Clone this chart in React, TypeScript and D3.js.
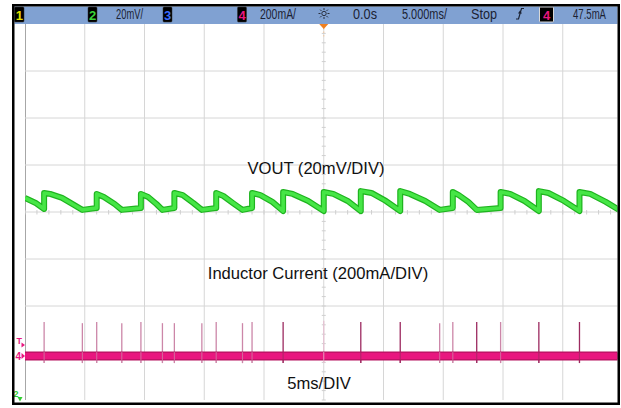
import React from 'react';
import * as d3 from 'd3';

const W = 621;
const H = 408;

// Scope settings
const timeDomainMs: [number, number] = [-25, 25]; // 5 ms/div, 10 divisions
const voutDomainMv: [number, number] = [-80, 80]; // 20 mV/div, 8 divisions (relative to offset)
const currentDomainMa: [number, number] = [-187, 1413]; // 200 mA/div, 8 divisions, ch4 offset
const triggerLevelMa = 47.5;

// VOUT ripple vertices [time ms, mV relative to screen centre]
const voutPoints: [number, number][] = [
  [-25.0, 6.0], [-24.1, 3.8], [-23.4, 1.3],
  [-23.4, 8.1], [-22.9, 7.7], [-21.9, 6.0], [-20.9, 3.0], [-20.2, 0.9], [-19.0, 1.7],
  [-19.0, 7.7], [-18.4, 6.4], [-17.5, 3.4], [-16.9, 0.9], [-15.3, 1.7],
  [-15.3, 7.7], [-14.7, 6.4], [-14.0, 3.4], [-13.5, 0.9], [-12.5, 1.7],
  [-12.5, 8.1], [-11.8, 7.2], [-10.9, 3.8], [-10.2, 0.9], [-9.0, 1.7],
  [-9.0, 8.1], [-8.4, 6.8], [-7.6, 3.8], [-6.8, 0.9], [-6.0, 1.7],
  [-6.0, 8.1], [-5.3, 7.2], [-4.3, 4.3], [-3.4, 0.4],
  [-3.4, 8.5], [-2.6, 7.7], [-1.3, 4.7], [0.0, 0.4],
  [0.0, 8.5], [0.8, 7.7], [2.0, 4.7], [3.1, 0.4],
  [3.1, 8.9], [4.0, 8.1], [5.2, 4.7], [6.4, 0.4],
  [6.4, 8.9], [7.2, 7.7], [8.5, 4.7], [9.7, 0.9], [10.8, 1.7],
  [10.8, 8.5], [11.3, 7.2], [12.1, 4.3], [12.8, 0.9], [14.8, 1.7],
  [14.8, 8.5], [15.6, 7.7], [16.8, 4.7], [18.0, 0.4],
  [18.0, 8.9], [18.8, 8.1], [20.1, 4.7], [21.4, 0.4],
  [21.4, 8.5], [22.3, 7.7], [23.6, 4.3], [25.0, 0.0],
];

// Inductor current baseline [time ms, mA]
const currentBaseline: [number, number][] = [[-25, 0], [25, 0]];

// Inductor current pulses
const spikeTimes = [-23.4, -20.2, -19.0, -16.9, -15.3, -13.5, -12.5, -10.2, -9.0, -6.8, -6.0, -3.4, 0.0, 3.1, 6.4, 9.7, 10.8, 12.8, 14.8, 18.0, 21.4];
const spikePeakMa = [145, 140, 145, 140, 145, 140, 140, 140, 145, 140, 145, 145, 150, 145, 145, 140, 145, 145, 145, 145, 145];
const spikeKind = ['weak', 'weak', 'weak', 'weak', 'weak', 'weak', 'weak', 'weak', 'weak', 'weak', 'weak', 'strong', 'faint', 'strong', 'strong', 'weak', 'weak', 'strong', 'weak', 'strong', 'strong'];
const spikeLowMa = -30;

const channelLabels = ['VOUT (20mV/DIV)', 'Inductor Current (200mA/DIV)', '5ms/DIV'];
const statusTexts = ['20mV/', '200mA/', '0.0s', '5.000ms/', 'Stop', '47.5mA'];

const PL = 25;
const PR = 25 + 10 * 59.75;
const PT = 24;
const PB = 400;

export default function App() {
  const x = d3.scaleLinear().domain(timeDomainMs).range([PL, PR]);
  const yV = d3.scaleLinear().domain(voutDomainMv).range([PB, PT]);
  const yI = d3.scaleLinear().domain(currentDomainMa).range([PB, PT]);
  const vLine = d3.line<[number, number]>().x(d => x(d[0])).y(d => yV(d[1]));
  const iLine = d3.line<[number, number]>().x(d => x(d[0])).y(d => yI(d[1]));

  const xGrid = d3.range(timeDomainMs[0], timeDomainMs[1] + 0.001, 5);
  const yGrid = d3.range(voutDomainMv[0] + 20, voutDomainMv[1] - 0.001, 20);
  const xMinor = d3.range(timeDomainMs[0], timeDomainMs[1] + 0.001, 1);
  const yMinor = d3.range(voutDomainMv[0], voutDomainMv[1] + 0.001, 4);
  const cx = x(0);
  const cy = yV(0);

  const spikeColor: Record<string, string> = { strong: '#9c2a60', weak: '#cc86a8', faint: '#e6c3d3' };

  const font = "'Liberation Sans', Arial, Helvetica, sans-serif";
  const barFont = "'Liberation Sans Narrow', 'Liberation Sans', Arial, sans-serif";
  const barY = 18.7;
  const barSize = 14;

  const chBox = (x0: number, w: number, digit: string, color: string, outline?: boolean) => (
    <g key={digit + x0}>
      <rect x={x0} y={7} width={w} height={15} fill="#000" stroke={outline ? '#d8d8d8' : '#333'} strokeWidth={outline ? 1 : 0.5} rx={1} />
      <text x={x0 + w / 2} y={19.5} fontFamily={font} fontWeight="bold" fontSize={13} fill={color} textAnchor="middle">{digit}</text>
    </g>
  );

  const sunRays = d3.range(8).map(i => (i * Math.PI) / 4);

  return (
    <svg width={W} height={H} style={{ position: 'absolute', left: 0, top: 0, background: '#fff' }}>
      <defs>
        <clipPath id="plotClip">
          <rect x={PL} y={PT} width={617.5 - PL} height={402 - PT} />
        </clipPath>
      </defs>
      <rect x={0} y={0} width={W} height={H} fill="#fff" />

      {/* grid */}
      <g clipPath="url(#plotClip)">
        {xGrid.map(t => (
          <line key={'gx' + t} x1={x(t)} x2={x(t)} y1={PT} y2={PB} stroke={t === timeDomainMs[0] ? '#8a8a8a' : '#d6d6d6'} strokeWidth={t === timeDomainMs[0] ? 1.5 : 1} />
        ))}
        {yGrid.map(v => (
          <line key={'gy' + v} x1={PL} x2={PR} y1={yV(v)} y2={yV(v)} stroke="#d6d6d6" strokeWidth={1} />
        ))}
        {xMinor.map(t => (
          <line key={'mx' + t} x1={x(t)} x2={x(t)} y1={cy - 2} y2={cy + 2.5} stroke="#cfcfcf" strokeWidth={1} />
        ))}
        {yMinor.map(v => (
          <line key={'my' + v} x1={cx - 2} x2={cx + 2} y1={yV(v)} y2={yV(v)} stroke="#cfcfcf" strokeWidth={1} />
        ))}
        {/* trigger position dotted line */}
        <line x1={cx} x2={cx} y1={28} y2={38} stroke="#f3c9a0" strokeWidth={1} strokeDasharray="1.5 2" />
      </g>

      {/* labels */}
      <text x={316} y={174} fontFamily={font} fontSize={16.6} fill="#111" textAnchor="middle">{channelLabels[0]}</text>
      <text x={318} y={279} fontFamily={font} fontSize={16.6} fill="#111" textAnchor="middle">{channelLabels[1]}</text>
      <text x={319} y={389} fontFamily={font} fontSize={16.6} fill="#111" textAnchor="middle">{channelLabels[2]}</text>

      <g clipPath="url(#plotClip)">
        {/* inductor current spikes */}
        {spikeTimes.map((t, i) => (
          <line key={'sp' + i} x1={x(t)} x2={x(t)} y1={yI(spikeLowMa)} y2={yI(spikePeakMa[i])} stroke={spikeColor[spikeKind[i]]} strokeWidth={1.3} />
        ))}
        {/* inductor current baseline */}
        <path d={iLine(currentBaseline) || ''} fill="none" stroke="#b5125f" strokeWidth={9} />
        <path d={iLine(currentBaseline) || ''} fill="none" stroke="#e8177f" strokeWidth={6.5} />
        {spikeTimes.map((t, i) => (
          <line key={'sp2' + i} x1={x(t)} x2={x(t)} y1={yI(0) - 4} y2={yI(spikeLowMa)} stroke={spikeColor[spikeKind[i]]} strokeWidth={1.1} opacity={0.7} />
        ))}
        {/* VOUT */}
        <path d={vLine(voutPoints) || ''} fill="none" stroke="#1fb41f" strokeWidth={6} strokeLinejoin="round" />
        <path d={vLine(voutPoints) || ''} fill="none" stroke="#46e646" strokeWidth={3.6} strokeLinejoin="round" />
      </g>

      {/* trigger marker top */}
      <path d={`M${cx - 4.5},24 L${cx + 4.5},24 L${cx},29 Z`} fill="#f08020" />

      {/* left markers */}
      <text x={16.5} y={yI(triggerLevelMa) - 1} fontFamily={font} fontSize={9} fontWeight="bold" fill="#e8177f">T</text>
      <path d={`M21.5,${yI(triggerLevelMa) - 2.5} L25,${yI(triggerLevelMa)} L21.5,${yI(triggerLevelMa) + 2.5} Z`} fill="#e8177f" />
      <text x={15.5} y={yI(0) + 3.5} fontFamily={font} fontSize={10} fontWeight="bold" fill="#e8177f">4</text>
      <path d={`M21.5,${yI(0) - 3} L25,${yI(0)} L21.5,${yI(0) + 3} Z`} fill="#e8177f" />
      <text x={13.5} y={397} fontFamily={font} fontSize={9} fontWeight="bold" fill="#2fcf2f">2</text>
      <path d="M17.5,397 L22.5,397 L20,401.5 Z" fill="#2fcf2f" />

      {/* top status bar */}
      <rect x={14.5} y={6.5} width={603} height={17.5} fill="#80a1d2" />
      {chBox(14.5, 9.5, '1', '#e0e000')}
      {chBox(88, 9, '2', '#3ad43a')}
      {chBox(163, 9, '3', '#3a6cff')}
      {chBox(237.5, 9, '4', '#e8177f')}
      {chBox(539.5, 14, '4', '#e8177f', true)}
      <text x={116} y={barY} fontFamily={barFont} fontSize={barSize} fill="#1b2233" textLength={27} lengthAdjust="spacingAndGlyphs">{statusTexts[0]}</text>
      <text x={260} y={barY} fontFamily={barFont} fontSize={barSize} fill="#1b2233" textLength={36} lengthAdjust="spacingAndGlyphs">{statusTexts[1]}</text>
      <text x={353} y={barY} fontFamily={barFont} fontSize={barSize} fill="#1b2233" textLength={24} lengthAdjust="spacingAndGlyphs">{statusTexts[2]}</text>
      <text x={402} y={barY} fontFamily={barFont} fontSize={barSize} fill="#1b2233" textLength={45} lengthAdjust="spacingAndGlyphs">{statusTexts[3]}</text>
      <text x={471} y={barY} fontFamily={barFont} fontSize={barSize} fill="#1b2233" textLength={26} lengthAdjust="spacingAndGlyphs">{statusTexts[4]}</text>
      <text x={573} y={barY} fontFamily={barFont} fontSize={barSize} fill="#1b2233" textLength={33} lengthAdjust="spacingAndGlyphs">{statusTexts[5]}</text>
      {/* sun icon */}
      <g stroke="#2a3040" strokeWidth={1} fill="none">
        <circle cx={324} cy={13.5} r={2.2} />
        {sunRays.map((a, i) => (
          <line key={'ray' + i} x1={324 + Math.cos(a) * 3.5} y1={13.5 + Math.sin(a) * 3.5} x2={324 + Math.cos(a) * 5.5} y2={13.5 + Math.sin(a) * 5.5} />
        ))}
      </g>
      {/* trigger edge icon */}
      <path d="M516,19 H518.5 L521.5,8.5 H524 M518.6,13.5 L520,11.5 L521.4,13.5" fill="none" stroke="#1b2233" strokeWidth={1.2} />

      {/* outer border */}
      <rect x={13.25} y={5.25} width={605.5} height={398.5} fill="none" stroke="#000" strokeWidth={2.5} />
    </svg>
  );
}
